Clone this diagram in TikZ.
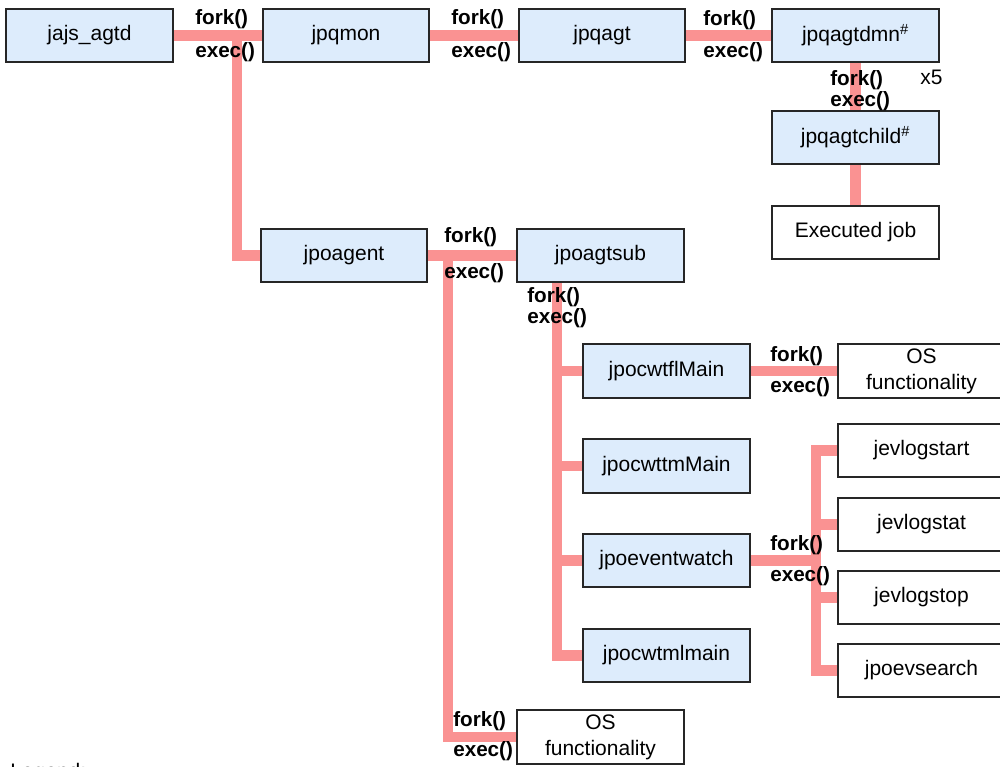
\documentclass[tikz,border=0pt]{standalone}
\usepackage{fontspec}
\setmainfont{Liberation Sans}
\usetikzlibrary{backgrounds}
\definecolor{procfill}{RGB}{221,236,252}
\definecolor{pipe}{RGB}{250,146,146}
\begin{document}
\begin{tikzpicture}[x=0.75pt,y=-0.75pt,
  box/.style={draw=black!85, line width=1.3pt, fill=procfill,
    minimum width=125pt, minimum height=40pt, inner sep=0pt,
    font=\fontsize{15.75}{19.5}\selectfont, align=center},
  extbox/.style={box, fill=white},
  call/.style={anchor=west, inner sep=0pt, font=\fontsize{15.5}{18}\selectfont\bfseries},
  note/.style={anchor=west, inner sep=0pt, font=\fontsize{15.75}{18}\selectfont},
  pipeline/.style={draw=pipe, line width=8pt, line join=miter}]
\useasboundingbox (0,0) rectangle (1000,767);
\clip (0,0) rectangle (1000,767);

% process boxes
\node[box] (jajs) at (89.5,35.5) {jajs\_agtd};
\node[box] (jpqmon) at (346,35.5) {jpqmon};
\node[box] (jpqagt) at (602,35.5) {jpqagt};
\node[box] (jpqagtdmn) at (855.5,35.5) {jpqagtdmn\textsuperscript{\#}};
\node[box] (jpqagtchild) at (855.5,137.5) {jpqagtchild\textsuperscript{\#}};
\node[extbox] (execjob) at (855.5,232.5) {Executed job};
\node[box] (jpoagent) at (344,255.5) {jpoagent};
\node[box] (jpoagtsub) at (600.5,255.5) {jpoagtsub};
\node[box] (jpocwtflMain) at (666.5,371) {jpocwtflMain};
\node[extbox] (os1) at (921.5,371) {OS\\functionality};
\node[box] (jpocwttmMain) at (666.5,466) {jpocwttmMain};
\node[extbox] (jevlogstart) at (921.5,450.5) {jevlogstart};
\node[extbox] (jevlogstat) at (921.5,524.5) {jevlogstat};
\node[box] (jpoeventwatch) at (666.5,560.5) {jpoeventwatch};
\node[extbox] (jevlogstop) at (921.5,597.5) {jevlogstop};
\node[box] (jpocwtmlmain) at (666.5,655.5) {jpocwtmlmain};
\node[extbox] (jpoevsearch) at (921.5,670.5) {jpoevsearch};
\node[extbox] (os2) at (600.5,737) {OS\\functionality};

% branch points of the process tree
\coordinate (j1) at (237,35.5);
\coordinate (j2) at (448,255.5);
\coordinate (j3) at (557,282);
\coordinate (j4) at (816,560.5);

% fork/exec connections
\begin{scope}[on background layer]
\draw[pipeline] (jajs.east) -- (jpqmon.west);
\draw[pipeline] (j1) |- (jpoagent.west);
\draw[pipeline] (jpqmon.east) -- (jpqagt.west);
\draw[pipeline] (jpqagt.east) -- (jpqagtdmn.west);
\draw[pipeline] (jpqagtdmn.south) -- (jpqagtchild.north);
\draw[pipeline] (jpqagtchild.south) -- (execjob.north);
\draw[pipeline] (jpoagent.east) -- (jpoagtsub.west);
\draw[pipeline] (j2) |- (os2.west);
\draw[pipeline] (j3) |- (jpocwtmlmain.west);
\draw[pipeline] (j3 |- jpocwtflMain.west) -- (jpocwtflMain.west);
\draw[pipeline] (j3 |- jpocwttmMain.west) -- (jpocwttmMain.west);
\draw[pipeline] (j3 |- jpoeventwatch.west) -- (jpoeventwatch.west);
\draw[pipeline] (jpocwtflMain.east) -- (os1.west);
\draw[pipeline] (jpoeventwatch.east) -- (j4);
\draw[pipeline] (jevlogstart.west) -| (j4) |- (jpoevsearch.west);
\draw[pipeline] (j4 |- jevlogstat.west) -- (jevlogstat.west);
\draw[pipeline] (j4 |- jevlogstop.west) -- (jevlogstop.west);
\end{scope}

% call labels
\node[call] (f1) at (195,19) {fork()};
\node[call] (e1) at (195,52) {exec()};
\node[call] (f2) at (451,19) {fork()};
\node[call] (e2) at (451,52) {exec()};
\node[call] (f3) at (703,20) {fork()};
\node[call] (e3) at (703,52) {exec()};
\node[call] (f4) at (830,80) {fork()};
\node[call] (e4) at (830,101) {exec()};
\node[note] (x5) at (920,77) {x5};
\node[call] (f5) at (444,237) {fork()};
\node[call] (e5) at (444,273) {exec()};
\node[call] (f6) at (527,297) {fork()};
\node[call] (e6) at (527,318) {exec()};
\node[call] (f7) at (770,356) {fork()};
\node[call] (e7) at (770,387) {exec()};
\node[call] (f8) at (770,545) {fork()};
\node[call] (e8) at (770,576) {exec()};
\node[call] (f9) at (453,721) {fork()};
\node[call] (e9) at (453,751) {exec()};

\node[note, anchor=base west] (legend) at (10,778) {Legend:};
\end{tikzpicture}
\end{document}
